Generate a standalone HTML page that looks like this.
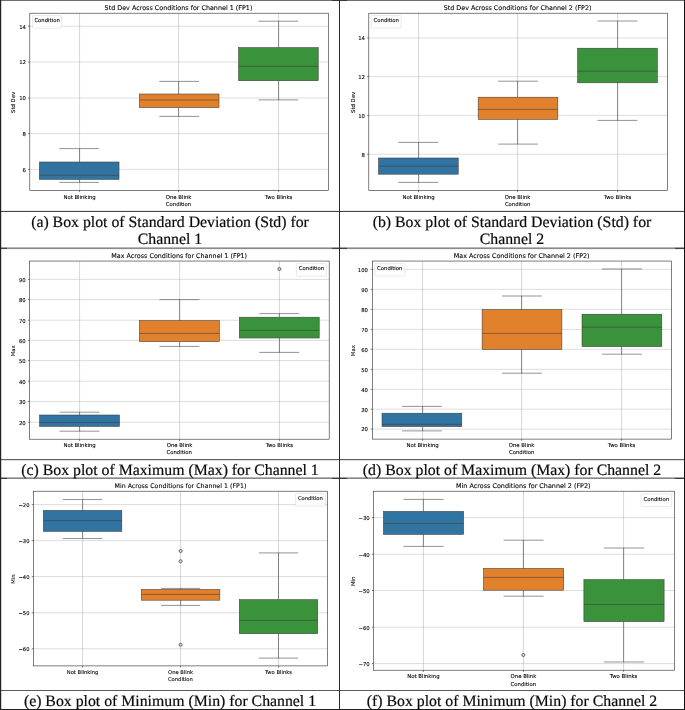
<!DOCTYPE html>
<html lang="en">
<head>
<meta charset="utf-8">
<title>Box plots across conditions</title>
<style>
html,body{margin:0;padding:0;background:#fff;}
body{width:685px;height:710px;overflow:hidden;}
#fig{position:relative;width:685px;height:710px;background:#fff;overflow:hidden;}
#fig svg{position:absolute;left:0;top:0;will-change:transform;}
#fig svg text{font-family:"DejaVu Sans","Liberation Sans",sans-serif;fill:#000;stroke:#000;stroke-width:0.1px;text-rendering:geometricPrecision;}
#fig svg .cap text{font-family:"Liberation Serif","Times New Roman",serif;fill:#0a0a0a;stroke:#0a0a0a;stroke-width:0.2px;}
.ln{position:absolute;}
</style>
</head>
<body>
<div id="fig">
<svg width="685" height="710" viewBox="0 0 685 710">
<g class="panel" id="panel-a">
<g stroke="#b4b4b4" stroke-width="0.55">
<line x1="79.55" y1="13.2" x2="79.55" y2="190.4"/>
<line x1="178.6" y1="13.2" x2="178.6" y2="190.4"/>
<line x1="278.6" y1="13.2" x2="278.6" y2="190.4"/>
<line x1="29.8" y1="26.2" x2="328.5" y2="26.2" stroke-width="0.45"/>
<line x1="29.8" y1="62" x2="328.5" y2="62" stroke-width="0.45"/>
<line x1="29.8" y1="98" x2="328.5" y2="98" stroke-width="0.45"/>
<line x1="29.8" y1="133.6" x2="328.5" y2="133.6" stroke-width="0.45"/>
<line x1="29.8" y1="169.4" x2="328.5" y2="169.4" stroke-width="0.45"/>
</g>
<g stroke="#3b3b3b" stroke-width="0.55" fill="none">
<line x1="79.55" y1="148.6" x2="79.55" y2="162"/>
<line x1="79.55" y1="179.4" x2="79.55" y2="182.4"/>
<line x1="59.29" y1="148.6" x2="99.11" y2="148.6"/>
<line x1="59.29" y1="182.4" x2="99.11" y2="182.4"/>
<rect x="39.37" y="162" width="79.65" height="17.4" fill="#3274a1"/>
<line x1="39.37" y1="175.2" x2="119.03" y2="175.2"/>
</g>
<g stroke="#3b3b3b" stroke-width="0.55" fill="none">
<line x1="178.6" y1="81.4" x2="178.6" y2="94"/>
<line x1="178.6" y1="107.6" x2="178.6" y2="116.4"/>
<line x1="159.29" y1="81.4" x2="199.11" y2="81.4"/>
<line x1="159.29" y1="116.4" x2="199.11" y2="116.4"/>
<rect x="139.37" y="94" width="79.65" height="13.6" fill="#e1812c"/>
<line x1="139.37" y1="100" x2="219.03" y2="100"/>
</g>
<g stroke="#3b3b3b" stroke-width="0.55" fill="none">
<line x1="278.6" y1="21.2" x2="278.6" y2="47.6"/>
<line x1="278.6" y1="80.7" x2="278.6" y2="99.9"/>
<line x1="258.49" y1="21.2" x2="298.31" y2="21.2"/>
<line x1="258.49" y1="99.9" x2="298.31" y2="99.9"/>
<rect x="238.57" y="47.6" width="79.65" height="33.1" fill="#3a923a"/>
<line x1="238.57" y1="66.3" x2="318.23" y2="66.3"/>
</g>
<rect x="29.8" y="13.2" width="298.7" height="177.2" fill="none" stroke="#2a2a2a" stroke-width="0.6"/>
<g stroke="#2a2a2a" stroke-width="0.6">
<line x1="79.55" y1="190.4" x2="79.55" y2="192.1"/>
<line x1="178.6" y1="190.4" x2="178.6" y2="192.1"/>
<line x1="278.6" y1="190.4" x2="278.6" y2="192.1"/>
<line x1="28.1" y1="26.2" x2="29.8" y2="26.2"/>
<line x1="28.1" y1="62" x2="29.8" y2="62"/>
<line x1="28.1" y1="98" x2="29.8" y2="98"/>
<line x1="28.1" y1="133.6" x2="29.8" y2="133.6"/>
<line x1="28.1" y1="169.4" x2="29.8" y2="169.4"/>
</g>
<g font-size="5.32" text-anchor="end">
<text x="25.9" y="28.5">14</text>
<text x="25.9" y="64.3">12</text>
<text x="25.9" y="100.3">10</text>
<text x="25.9" y="135.9">8</text>
<text x="25.9" y="171.7">6</text>
</g>
<g font-size="5.32" text-anchor="middle">
<text x="79.55" y="198.6">Not Blinking</text>
<text x="178.6" y="198.6">One Blink</text>
<text x="278.6" y="198.6">Two Blinks</text>
<text x="178.5" y="206.1">Condition</text>
<text transform="translate(15.1,102.4) rotate(-90)">Std Dev</text>
</g>
<text font-size="6.4" text-anchor="middle" x="178.5" y="10">Std Dev Across Conditions for Channel 1 (FP1)</text>
<rect x="32.6" y="15.6" width="29" height="12.6" rx="0.9" fill="#ffffff" fill-opacity="0.8" stroke="#d4d4d4" stroke-width="0.5"/>
<text font-size="5.32" text-anchor="middle" x="47.1" y="22.1">Condition</text>
</g>
<g class="panel" id="panel-b">
<g stroke="#b4b4b4" stroke-width="0.55">
<line x1="418.6" y1="13.2" x2="418.6" y2="190.4"/>
<line x1="517.6" y1="13.2" x2="517.6" y2="190.4"/>
<line x1="617.6" y1="13.2" x2="617.6" y2="190.4"/>
<line x1="368.8" y1="38" x2="667.6" y2="38" stroke-width="0.45"/>
<line x1="368.8" y1="76.6" x2="667.6" y2="76.6" stroke-width="0.45"/>
<line x1="368.8" y1="115.4" x2="667.6" y2="115.4" stroke-width="0.45"/>
<line x1="368.8" y1="154.2" x2="667.6" y2="154.2" stroke-width="0.45"/>
</g>
<g stroke="#3b3b3b" stroke-width="0.55" fill="none">
<line x1="418.6" y1="142.4" x2="418.6" y2="158"/>
<line x1="418.6" y1="174.2" x2="418.6" y2="182.4"/>
<line x1="398.48" y1="142.4" x2="438.32" y2="142.4"/>
<line x1="398.48" y1="182.4" x2="438.32" y2="182.4"/>
<rect x="378.56" y="158" width="79.68" height="16.2" fill="#3274a1"/>
<line x1="378.56" y1="166.2" x2="458.24" y2="166.2"/>
</g>
<g stroke="#3b3b3b" stroke-width="0.55" fill="none">
<line x1="517.6" y1="81.2" x2="517.6" y2="97.2"/>
<line x1="517.6" y1="119.4" x2="517.6" y2="144.1"/>
<line x1="498.08" y1="81.2" x2="537.92" y2="81.2"/>
<line x1="498.08" y1="144.1" x2="537.92" y2="144.1"/>
<rect x="478.16" y="97.2" width="79.68" height="22.2" fill="#e1812c"/>
<line x1="478.16" y1="109.4" x2="557.84" y2="109.4"/>
</g>
<g stroke="#3b3b3b" stroke-width="0.55" fill="none">
<line x1="617.6" y1="21" x2="617.6" y2="48.2"/>
<line x1="617.6" y1="82.8" x2="617.6" y2="120.4"/>
<line x1="597.58" y1="21" x2="637.42" y2="21"/>
<line x1="597.58" y1="120.4" x2="637.42" y2="120.4"/>
<rect x="577.66" y="48.2" width="79.68" height="34.6" fill="#3a923a"/>
<line x1="577.66" y1="71.2" x2="657.34" y2="71.2"/>
</g>
<rect x="368.8" y="13.2" width="298.8" height="177.2" fill="none" stroke="#2a2a2a" stroke-width="0.6"/>
<g stroke="#2a2a2a" stroke-width="0.6">
<line x1="418.6" y1="190.4" x2="418.6" y2="192.1"/>
<line x1="517.6" y1="190.4" x2="517.6" y2="192.1"/>
<line x1="617.6" y1="190.4" x2="617.6" y2="192.1"/>
<line x1="367.1" y1="38" x2="368.8" y2="38"/>
<line x1="367.1" y1="76.6" x2="368.8" y2="76.6"/>
<line x1="367.1" y1="115.4" x2="368.8" y2="115.4"/>
<line x1="367.1" y1="154.2" x2="368.8" y2="154.2"/>
</g>
<g font-size="5.32" text-anchor="end">
<text x="364.9" y="40.3">14</text>
<text x="364.9" y="78.9">12</text>
<text x="364.9" y="117.7">10</text>
<text x="364.9" y="156.5">8</text>
</g>
<g font-size="5.32" text-anchor="middle">
<text x="418.6" y="198.6">Not Blinking</text>
<text x="517.6" y="198.6">One Blink</text>
<text x="617.6" y="198.6">Two Blinks</text>
<text x="517.6" y="206.1">Condition</text>
<text transform="translate(354.5,102.4) rotate(-90)">Std Dev</text>
</g>
<text font-size="6.4" text-anchor="middle" x="517.6" y="10">Std Dev Across Conditions for Channel 2 (FP2)</text>
<rect x="371.4" y="15.4" width="29.8" height="12.6" rx="0.9" fill="#ffffff" fill-opacity="0.8" stroke="#d4d4d4" stroke-width="0.5"/>
<text font-size="5.32" text-anchor="middle" x="386.3" y="21.9">Condition</text>
</g>
<g class="panel" id="panel-c">
<g stroke="#b4b4b4" stroke-width="0.55">
<line x1="79.6" y1="261.05" x2="79.6" y2="439.2"/>
<line x1="179.6" y1="261.05" x2="179.6" y2="439.2"/>
<line x1="279.4" y1="261.05" x2="279.4" y2="439.2"/>
<line x1="29.6" y1="279.4" x2="329.2" y2="279.4" stroke-width="0.45"/>
<line x1="29.6" y1="299.6" x2="329.2" y2="299.6" stroke-width="0.45"/>
<line x1="29.6" y1="320.2" x2="329.2" y2="320.2" stroke-width="0.45"/>
<line x1="29.6" y1="340.4" x2="329.2" y2="340.4" stroke-width="0.45"/>
<line x1="29.6" y1="360.6" x2="329.2" y2="360.6" stroke-width="0.45"/>
<line x1="29.6" y1="381.2" x2="329.2" y2="381.2" stroke-width="0.45"/>
<line x1="29.6" y1="401.6" x2="329.2" y2="401.6" stroke-width="0.45"/>
<line x1="29.6" y1="422.2" x2="329.2" y2="422.2" stroke-width="0.45"/>
</g>
<g stroke="#3b3b3b" stroke-width="0.55" fill="none">
<line x1="79.6" y1="412.2" x2="79.6" y2="415"/>
<line x1="79.6" y1="426.4" x2="79.6" y2="431.2"/>
<line x1="59.56" y1="412.2" x2="99.51" y2="412.2"/>
<line x1="59.56" y1="431.2" x2="99.51" y2="431.2"/>
<rect x="39.59" y="415" width="79.89" height="11.4" fill="#3274a1"/>
<line x1="39.59" y1="422.4" x2="119.48" y2="422.4"/>
</g>
<g stroke="#3b3b3b" stroke-width="0.55" fill="none">
<line x1="179.6" y1="299.6" x2="179.6" y2="320.6"/>
<line x1="179.6" y1="341.6" x2="179.6" y2="346.4"/>
<line x1="159.43" y1="299.6" x2="199.37" y2="299.6"/>
<line x1="159.43" y1="346.4" x2="199.37" y2="346.4"/>
<rect x="139.45" y="320.6" width="79.89" height="21" fill="#e1812c"/>
<line x1="139.45" y1="333.4" x2="219.35" y2="333.4"/>
</g>
<g stroke="#3b3b3b" stroke-width="0.55" fill="none">
<line x1="279.4" y1="313.6" x2="279.4" y2="317.2"/>
<line x1="279.4" y1="338" x2="279.4" y2="352.4"/>
<line x1="259.29" y1="313.6" x2="299.24" y2="313.6"/>
<line x1="259.29" y1="352.4" x2="299.24" y2="352.4"/>
<rect x="239.32" y="317.2" width="79.89" height="20.8" fill="#3a923a"/>
<line x1="239.32" y1="330.4" x2="319.21" y2="330.4"/>
<circle cx="279.4" cy="269" r="1.5" stroke-width="0.8"/>
</g>
<rect x="29.6" y="261.05" width="299.6" height="178.15" fill="none" stroke="#2a2a2a" stroke-width="0.6"/>
<g stroke="#2a2a2a" stroke-width="0.6">
<line x1="79.6" y1="439.2" x2="79.6" y2="440.9"/>
<line x1="179.6" y1="439.2" x2="179.6" y2="440.9"/>
<line x1="279.4" y1="439.2" x2="279.4" y2="440.9"/>
<line x1="27.9" y1="279.4" x2="29.6" y2="279.4"/>
<line x1="27.9" y1="299.6" x2="29.6" y2="299.6"/>
<line x1="27.9" y1="320.2" x2="29.6" y2="320.2"/>
<line x1="27.9" y1="340.4" x2="29.6" y2="340.4"/>
<line x1="27.9" y1="360.6" x2="29.6" y2="360.6"/>
<line x1="27.9" y1="381.2" x2="29.6" y2="381.2"/>
<line x1="27.9" y1="401.6" x2="29.6" y2="401.6"/>
<line x1="27.9" y1="422.2" x2="29.6" y2="422.2"/>
</g>
<g font-size="5.32" text-anchor="end">
<text x="25.7" y="281.7">90</text>
<text x="25.7" y="301.9">80</text>
<text x="25.7" y="322.5">70</text>
<text x="25.7" y="342.7">60</text>
<text x="25.7" y="362.9">50</text>
<text x="25.7" y="383.5">40</text>
<text x="25.7" y="403.9">30</text>
<text x="25.7" y="424.5">20</text>
</g>
<g font-size="5.32" text-anchor="middle">
<text x="79.6" y="446.6">Not Blinking</text>
<text x="179.6" y="446.6">One Blink</text>
<text x="279.4" y="446.6">Two Blinks</text>
<text x="179.2" y="454.3">Condition</text>
<text transform="translate(15.1,350.73) rotate(-90)">Max</text>
</g>
<text font-size="6.4" text-anchor="middle" x="179.2" y="258">Max Across Conditions for Channel 1 (FP1)</text>
<rect x="296.4" y="263.6" width="30.2" height="12.6" rx="0.9" fill="#ffffff" fill-opacity="0.8" stroke="#d4d4d4" stroke-width="0.5"/>
<text font-size="5.32" text-anchor="middle" x="311.5" y="270.1">Condition</text>
</g>
<g class="panel" id="panel-d">
<g stroke="#b4b4b4" stroke-width="0.55">
<line x1="422.6" y1="261.05" x2="422.6" y2="439.1"/>
<line x1="521.6" y1="261.05" x2="521.6" y2="439.1"/>
<line x1="621.6" y1="261.05" x2="621.6" y2="439.1"/>
<line x1="372.4" y1="269.4" x2="671.6" y2="269.4" stroke-width="0.45"/>
<line x1="372.4" y1="289.4" x2="671.6" y2="289.4" stroke-width="0.45"/>
<line x1="372.4" y1="309.4" x2="671.6" y2="309.4" stroke-width="0.45"/>
<line x1="372.4" y1="329.4" x2="671.6" y2="329.4" stroke-width="0.45"/>
<line x1="372.4" y1="349.3" x2="671.6" y2="349.3" stroke-width="0.45"/>
<line x1="372.4" y1="369.4" x2="671.6" y2="369.4" stroke-width="0.45"/>
<line x1="372.4" y1="389.4" x2="671.6" y2="389.4" stroke-width="0.45"/>
<line x1="372.4" y1="409.2" x2="671.6" y2="409.2" stroke-width="0.45"/>
<line x1="372.4" y1="429.1" x2="671.6" y2="429.1" stroke-width="0.45"/>
</g>
<g stroke="#3b3b3b" stroke-width="0.55" fill="none">
<line x1="422.6" y1="406.4" x2="422.6" y2="413.2"/>
<line x1="422.6" y1="426.6" x2="422.6" y2="430.9"/>
<line x1="401.95" y1="406.4" x2="441.85" y2="406.4"/>
<line x1="401.95" y1="430.9" x2="441.85" y2="430.9"/>
<rect x="382.01" y="413.2" width="79.79" height="13.4" fill="#3274a1"/>
<line x1="382.01" y1="424.4" x2="461.79" y2="424.4"/>
</g>
<g stroke="#3b3b3b" stroke-width="0.55" fill="none">
<line x1="521.6" y1="296" x2="521.6" y2="309.6"/>
<line x1="521.6" y1="349.4" x2="521.6" y2="373.2"/>
<line x1="502.05" y1="296" x2="541.95" y2="296"/>
<line x1="502.05" y1="373.2" x2="541.95" y2="373.2"/>
<rect x="482.11" y="309.6" width="79.79" height="39.8" fill="#e1812c"/>
<line x1="482.11" y1="333.4" x2="561.89" y2="333.4"/>
</g>
<g stroke="#3b3b3b" stroke-width="0.55" fill="none">
<line x1="621.6" y1="269" x2="621.6" y2="314.2"/>
<line x1="621.6" y1="346.6" x2="621.6" y2="354.2"/>
<line x1="601.95" y1="269" x2="641.85" y2="269"/>
<line x1="601.95" y1="354.2" x2="641.85" y2="354.2"/>
<rect x="582.01" y="314.2" width="79.79" height="32.4" fill="#3a923a"/>
<line x1="582.01" y1="327.2" x2="661.79" y2="327.2"/>
</g>
<rect x="372.4" y="261.05" width="299.2" height="178.05" fill="none" stroke="#2a2a2a" stroke-width="0.6"/>
<g stroke="#2a2a2a" stroke-width="0.6">
<line x1="422.6" y1="439.1" x2="422.6" y2="440.8"/>
<line x1="521.6" y1="439.1" x2="521.6" y2="440.8"/>
<line x1="621.6" y1="439.1" x2="621.6" y2="440.8"/>
<line x1="370.7" y1="269.4" x2="372.4" y2="269.4"/>
<line x1="370.7" y1="289.4" x2="372.4" y2="289.4"/>
<line x1="370.7" y1="309.4" x2="372.4" y2="309.4"/>
<line x1="370.7" y1="329.4" x2="372.4" y2="329.4"/>
<line x1="370.7" y1="349.3" x2="372.4" y2="349.3"/>
<line x1="370.7" y1="369.4" x2="372.4" y2="369.4"/>
<line x1="370.7" y1="389.4" x2="372.4" y2="389.4"/>
<line x1="370.7" y1="409.2" x2="372.4" y2="409.2"/>
<line x1="370.7" y1="429.1" x2="372.4" y2="429.1"/>
</g>
<g font-size="5.32" text-anchor="end">
<text x="368" y="271.7">100</text>
<text x="368" y="291.7">90</text>
<text x="368" y="311.7">80</text>
<text x="368" y="331.7">70</text>
<text x="368" y="351.6">60</text>
<text x="368" y="371.7">50</text>
<text x="368" y="391.7">40</text>
<text x="368" y="411.5">30</text>
<text x="368" y="431.4">20</text>
</g>
<g font-size="5.32" text-anchor="middle">
<text x="422.6" y="446.6">Not Blinking</text>
<text x="521.6" y="446.6">One Blink</text>
<text x="621.6" y="446.6">Two Blinks</text>
<text x="521.7" y="454.3">Condition</text>
<text transform="translate(354.5,350.68) rotate(-90)">Max</text>
</g>
<text font-size="6.4" text-anchor="middle" x="521.7" y="258">Max Across Conditions for Channel 2 (FP2)</text>
<rect x="374.8" y="263.6" width="30" height="12.6" rx="0.9" fill="#ffffff" fill-opacity="0.8" stroke="#d4d4d4" stroke-width="0.5"/>
<text font-size="5.32" text-anchor="middle" x="389.8" y="270.1">Condition</text>
</g>
<g class="panel" id="panel-e">
<g stroke="#b4b4b4" stroke-width="0.55">
<line x1="82.6" y1="491.2" x2="82.6" y2="665.9"/>
<line x1="180.6" y1="491.2" x2="180.6" y2="665.9"/>
<line x1="278.5" y1="491.2" x2="278.5" y2="665.9"/>
<line x1="33.4" y1="504.6" x2="327.6" y2="504.6" stroke-width="0.45"/>
<line x1="33.4" y1="540.6" x2="327.6" y2="540.6" stroke-width="0.45"/>
<line x1="33.4" y1="576.6" x2="327.6" y2="576.6" stroke-width="0.45"/>
<line x1="33.4" y1="612.8" x2="327.6" y2="612.8" stroke-width="0.45"/>
<line x1="33.4" y1="648.8" x2="327.6" y2="648.8" stroke-width="0.45"/>
</g>
<g stroke="#3b3b3b" stroke-width="0.55" fill="none">
<line x1="82.6" y1="499.5" x2="82.6" y2="510.4"/>
<line x1="82.6" y1="531.4" x2="82.6" y2="538.5"/>
<line x1="62.99" y1="499.5" x2="102.21" y2="499.5"/>
<line x1="62.99" y1="538.5" x2="102.21" y2="538.5"/>
<rect x="43.37" y="510.4" width="78.45" height="21" fill="#3274a1"/>
<line x1="43.37" y1="520.6" x2="121.83" y2="520.6"/>
</g>
<g stroke="#3b3b3b" stroke-width="0.55" fill="none">
<line x1="180.6" y1="588.4" x2="180.6" y2="589.4"/>
<line x1="180.6" y1="600.2" x2="180.6" y2="605.4"/>
<line x1="160.99" y1="588.4" x2="200.21" y2="588.4"/>
<line x1="160.99" y1="605.4" x2="200.21" y2="605.4"/>
<rect x="141.37" y="589.4" width="78.45" height="10.8" fill="#e1812c"/>
<line x1="141.37" y1="594.4" x2="219.83" y2="594.4"/>
<circle cx="180.6" cy="551" r="1.5" stroke-width="0.8"/>
<circle cx="180.6" cy="561.2" r="1.5" stroke-width="0.8"/>
<circle cx="180.6" cy="644.8" r="1.5" stroke-width="0.8"/>
</g>
<g stroke="#3b3b3b" stroke-width="0.55" fill="none">
<line x1="278.5" y1="552.9" x2="278.5" y2="599.7"/>
<line x1="278.5" y1="633.7" x2="278.5" y2="658.1"/>
<line x1="258.89" y1="552.9" x2="298.11" y2="552.9"/>
<line x1="258.89" y1="658.1" x2="298.11" y2="658.1"/>
<rect x="239.27" y="599.7" width="78.45" height="34" fill="#3a923a"/>
<line x1="239.27" y1="620.4" x2="317.73" y2="620.4"/>
</g>
<rect x="33.4" y="491.2" width="294.2" height="174.7" fill="none" stroke="#2a2a2a" stroke-width="0.6"/>
<g stroke="#2a2a2a" stroke-width="0.6">
<line x1="82.6" y1="665.9" x2="82.6" y2="667.6"/>
<line x1="180.6" y1="665.9" x2="180.6" y2="667.6"/>
<line x1="278.5" y1="665.9" x2="278.5" y2="667.6"/>
<line x1="31.7" y1="504.6" x2="33.4" y2="504.6"/>
<line x1="31.7" y1="540.6" x2="33.4" y2="540.6"/>
<line x1="31.7" y1="576.6" x2="33.4" y2="576.6"/>
<line x1="31.7" y1="612.8" x2="33.4" y2="612.8"/>
<line x1="31.7" y1="648.8" x2="33.4" y2="648.8"/>
</g>
<g font-size="5.23" text-anchor="end">
<text x="29.5" y="506.9">−20</text>
<text x="29.5" y="542.9">−30</text>
<text x="29.5" y="578.9">−40</text>
<text x="29.5" y="615.1">−50</text>
<text x="29.5" y="651.1">−60</text>
</g>
<g font-size="5.23" text-anchor="middle">
<text x="82.6" y="674">Not Blinking</text>
<text x="180.6" y="674">One Blink</text>
<text x="278.5" y="674">Two Blinks</text>
<text x="180.4" y="681">Condition</text>
<text transform="translate(15.1,579.15) rotate(-90)">Min</text>
</g>
<text font-size="6.3" text-anchor="middle" x="180.4" y="488.2">Min Across Conditions for Channel 1 (FP1)</text>
<rect x="295.4" y="493.6" width="29.9" height="12.6" rx="0.9" fill="#ffffff" fill-opacity="0.8" stroke="#d4d4d4" stroke-width="0.5"/>
<text font-size="5.23" text-anchor="middle" x="310.35" y="500.1">Condition</text>
</g>
<g class="panel" id="panel-f">
<g stroke="#b4b4b4" stroke-width="0.55">
<line x1="423.4" y1="491.2" x2="423.4" y2="670.2"/>
<line x1="523.4" y1="491.2" x2="523.4" y2="670.2"/>
<line x1="623.6" y1="491.2" x2="623.6" y2="670.2"/>
<line x1="373.6" y1="517.6" x2="674.4" y2="517.6" stroke-width="0.45"/>
<line x1="373.6" y1="554.2" x2="674.4" y2="554.2" stroke-width="0.45"/>
<line x1="373.6" y1="590.5" x2="674.4" y2="590.5" stroke-width="0.45"/>
<line x1="373.6" y1="627.2" x2="674.4" y2="627.2" stroke-width="0.45"/>
<line x1="373.6" y1="663.6" x2="674.4" y2="663.6" stroke-width="0.45"/>
</g>
<g stroke="#3b3b3b" stroke-width="0.55" fill="none">
<line x1="423.4" y1="499.4" x2="423.4" y2="511.4"/>
<line x1="423.4" y1="534.4" x2="423.4" y2="546.4"/>
<line x1="403.45" y1="499.4" x2="443.55" y2="499.4"/>
<line x1="403.45" y1="546.4" x2="443.55" y2="546.4"/>
<rect x="383.39" y="511.4" width="80.21" height="23" fill="#3274a1"/>
<line x1="383.39" y1="523.4" x2="463.61" y2="523.4"/>
</g>
<g stroke="#3b3b3b" stroke-width="0.55" fill="none">
<line x1="523.4" y1="540.2" x2="523.4" y2="568.4"/>
<line x1="523.4" y1="590.2" x2="523.4" y2="596.2"/>
<line x1="503.55" y1="540.2" x2="543.65" y2="540.2"/>
<line x1="503.55" y1="596.2" x2="543.65" y2="596.2"/>
<rect x="483.49" y="568.4" width="80.21" height="21.8" fill="#e1812c"/>
<line x1="483.49" y1="577.4" x2="563.71" y2="577.4"/>
<circle cx="523.4" cy="655" r="1.5" stroke-width="0.8"/>
</g>
<g stroke="#3b3b3b" stroke-width="0.55" fill="none">
<line x1="623.6" y1="548" x2="623.6" y2="579.6"/>
<line x1="623.6" y1="621.6" x2="623.6" y2="662"/>
<line x1="603.95" y1="548" x2="644.05" y2="548"/>
<line x1="603.95" y1="662" x2="644.05" y2="662"/>
<rect x="583.89" y="579.6" width="80.21" height="42" fill="#3a923a"/>
<line x1="583.89" y1="604.5" x2="664.11" y2="604.5"/>
</g>
<rect x="373.6" y="491.2" width="300.8" height="179" fill="none" stroke="#2a2a2a" stroke-width="0.6"/>
<g stroke="#2a2a2a" stroke-width="0.6">
<line x1="423.4" y1="670.2" x2="423.4" y2="671.9"/>
<line x1="523.4" y1="670.2" x2="523.4" y2="671.9"/>
<line x1="623.6" y1="670.2" x2="623.6" y2="671.9"/>
<line x1="371.9" y1="517.6" x2="373.6" y2="517.6"/>
<line x1="371.9" y1="554.2" x2="373.6" y2="554.2"/>
<line x1="371.9" y1="590.5" x2="373.6" y2="590.5"/>
<line x1="371.9" y1="627.2" x2="373.6" y2="627.2"/>
<line x1="371.9" y1="663.6" x2="373.6" y2="663.6"/>
</g>
<g font-size="5.35" text-anchor="end">
<text x="369.7" y="519.9">−30</text>
<text x="369.7" y="556.5">−40</text>
<text x="369.7" y="592.8">−50</text>
<text x="369.7" y="629.5">−60</text>
<text x="369.7" y="665.9">−70</text>
</g>
<g font-size="5.35" text-anchor="middle">
<text x="423.4" y="678">Not Blinking</text>
<text x="523.4" y="678">One Blink</text>
<text x="623.6" y="678">Two Blinks</text>
<text x="523.3" y="685.5">Condition</text>
<text transform="translate(354.5,581.3) rotate(-90)">Min</text>
</g>
<text font-size="6.43" text-anchor="middle" x="523.3" y="488.2">Min Across Conditions for Channel 2 (FP2)</text>
<rect x="641" y="494" width="30.6" height="12.4" rx="0.9" fill="#ffffff" fill-opacity="0.8" stroke="#d4d4d4" stroke-width="0.5"/>
<text font-size="5.35" text-anchor="middle" x="656.3" y="500.5">Condition</text>
</g>
<g id="table-rules" shape-rendering="geometricPrecision"><rect x="0" y="0" width="685" height="0.8" fill="#4a4a4a"/>
<rect x="332" y="0" width="15" height="0.8" fill="#2a2a2a"/>
<rect x="0" y="210.9" width="685" height="1" fill="#333"/>
<rect x="0" y="247.4" width="685" height="1.7" fill="#8a8a8a"/>
<rect x="332" y="247.85" width="15" height="0.9" fill="#2a2a2a"/>
<rect x="0" y="247.85" width="7" height="0.9" fill="#2a2a2a"/>
<rect x="675" y="247.85" width="10" height="0.9" fill="#2a2a2a"/>
<rect x="0" y="459" width="685" height="1.2" fill="#606060"/>
<rect x="0" y="477.5" width="685" height="1.3" fill="#6a6a6a"/>
<rect x="332" y="477.9" width="15" height="0.9" fill="#2a2a2a"/>
<rect x="0" y="477.9" width="7" height="0.9" fill="#2a2a2a"/>
<rect x="675" y="477.9" width="10" height="0.9" fill="#2a2a2a"/>
<rect x="0" y="690" width="685" height="1" fill="#5a5a5a"/>
<rect x="0" y="709" width="685" height="1" fill="#222"/>
<rect x="0" y="0" width="1.2" height="710" fill="#222"/>
<rect x="339" y="0" width="1" height="710" fill="#2a2a2a"/>
<rect x="684" y="0" width="1" height="710" fill="#111"/></g>
<g id="captions" font-size="15.8" text-anchor="middle" class="cap">
<text id="cap-a-0" x="170" y="226.6">(a) Box plot of Standard Deviation (Std) for</text>
<text id="cap-a-1" x="170" y="244.2">Channel 1</text>
<text id="cap-b-0" x="512" y="226.6">(b) Box plot of Standard Deviation (Std) for</text>
<text id="cap-b-1" x="512" y="244.2">Channel 2</text>
<text id="cap-c-0" x="170" y="475">(c) Box plot of Maximum (Max) for Channel 1</text>
<text id="cap-d-0" x="512" y="475">(d) Box plot of Maximum (Max) for Channel 2</text>
<text id="cap-e-0" x="170" y="706.1">(e) Box plot of Minimum (Min) for Channel 1</text>
<text id="cap-f-0" x="512" y="706.1">(f) Box plot of Minimum (Min) for Channel 2</text>
</g>
</svg>
</div>
</body>
</html>
